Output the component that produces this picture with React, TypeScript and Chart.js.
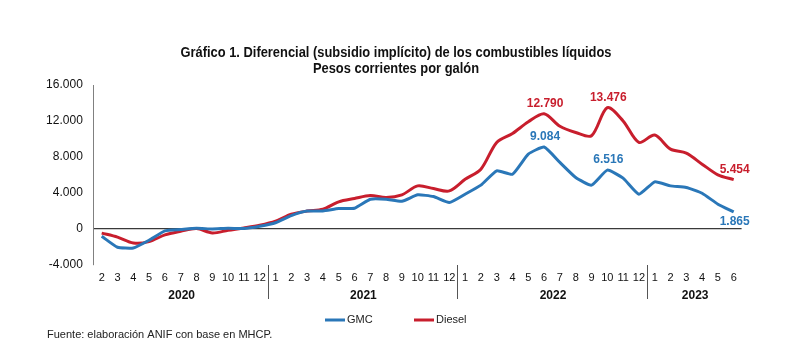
import React, { useEffect, useRef } from 'react';
import { Chart, registerables } from 'chart.js';

Chart.register(...registerables);

// ---- Data ----
const monthLabels = [
  '2', '3', '4', '5', '6', '7', '8', '9', '10', '11', '12',
  '1', '2', '3', '4', '5', '6', '7', '8', '9', '10', '11', '12',
  '1', '2', '3', '4', '5', '6', '7', '8', '9', '10', '11', '12',
  '1', '2', '3', '4', '5', '6',
];
const yearLabels = ['2020', '2021', '2022', '2023'];

const gmcValues = [
  -860, -2080, -2160, -1300, -260, -110, 40, -40, 40, 0, 260,
  650, 1450, 1950, 1970, 2230, 2270, 3270, 3270, 3050, 3760, 3570, 2900,
  3830, 4840, 6440, 6060, 8300, 9084, 7370, 5690, 4840, 6516, 5620, 3830,
  5210, 4760, 4580, 3940, 2720, 1865,
];
const dieselValues = [
  -500, -950, -1600, -1450, -700, -300, 0, -480, -190, 70, 370,
  820, 1600, 1950, 2160, 2980, 3350, 3680, 3460, 3760, 4760, 4460, 4200,
  5500, 6620, 9600, 10600, 11900, 12790, 11400, 10710, 10340, 13476, 12000, 9600,
  10420, 8850, 8410, 7180, 5990, 5454,
];
const seriesNames = ['GMC', 'Diesel'];
const yMin = -4000;
const yMax = 16000;
const yStep = 4000;

// points that carry a value label: series index, point index, placement
const labelledPoints = [
  { series: 1, index: 28, place: 'above' },
  { series: 1, index: 32, place: 'above' },
  { series: 1, index: 40, place: 'above' },
  { series: 0, index: 28, place: 'above' },
  { series: 0, index: 32, place: 'above' },
  { series: 0, index: 40, place: 'below' },
];

const titleLines = [
  'Gráfico 1. Diferencial (subsidio implícito) de los combustibles líquidos',
  'Pesos corrientes por galón',
];
const sourceText = 'Fuente: elaboración ANIF con base en MHCP.';

// ---- Styles ----
const BLUE = '#2A77B8';
const RED = '#C81E2D';
const colors = [BLUE, RED];
const FONT = '"Liberation Sans", Arial, Helvetica, sans-serif';

function fmt(v: number): string {
  const s = Math.abs(Math.round(v)).toString().replace(/\B(?=(\d{3})+(?!\d))/g, '.');
  return (v < 0 ? '-' : '') + s;
}

const overlayPlugin = {
  id: 'overlay',
  afterDraw(chart: any) {
    const ctx = chart.ctx as CanvasRenderingContext2D;
    const xs = chart.scales.x;
    const ys = chart.scales.y;
    ctx.save();

    // Title (bold, condensed)
    ctx.font = 'bold 15px "Liberation Sans Narrow", ' + FONT;
    const w1 = ctx.measureText(titleLines[0]).width;
    const sx = 431 / w1;
    ctx.fillStyle = '#111111';
    ctx.textAlign = 'center';
    ctx.textBaseline = 'middle';
    titleLines.forEach((t, i) => {
      ctx.save();
      ctx.translate(396, 53 + i * 16);
      ctx.scale(sx, 1);
      ctx.fillText(t, 0, 0);
      ctx.restore();
    });

    // Year groups: separators and labels
    const starts: number[] = [];
    monthLabels.forEach((m, i) => {
      if (i === 0 || m === '1') starts.push(i);
    });
    ctx.strokeStyle = '#555555';
    ctx.lineWidth = 1;
    ctx.font = 'bold 12px ' + FONT;
    ctx.fillStyle = '#111111';
    starts.forEach((s, k) => {
      if (k > 0) {
        const px = Math.round((xs.getPixelForValue(s - 1) + xs.getPixelForValue(s)) / 2) + 0.5;
        ctx.beginPath();
        ctx.moveTo(px, ys.bottom + 0.5);
        ctx.lineTo(px, ys.bottom + 34.5);
        ctx.stroke();
      }
      const e = k < starts.length - 1 ? starts[k + 1] - 1 : monthLabels.length - 1;
      const cx = (xs.getPixelForValue(s) + xs.getPixelForValue(e)) / 2;
      ctx.fillText(yearLabels[k], cx + 1, ys.bottom + 31.5);
    });

    // Value labels
    ctx.font = 'bold 12px ' + FONT;
    labelledPoints.forEach((p) => {
      const meta = chart.getDatasetMeta(p.series);
      const el = meta.data[p.index];
      const v = (chart.data.datasets[p.series].data as number[])[p.index];
      ctx.fillStyle = colors[p.series];
      const dy = p.place === 'above' ? -10 : 10;
      ctx.fillText(fmt(v), el.x + 1, el.y + dy);
    });

    // Legend
    ctx.font = '11px ' + FONT;
    ctx.textAlign = 'left';
    const legendX = [325, 414];
    seriesNames.forEach((n, i) => {
      ctx.strokeStyle = colors[i];
      ctx.lineWidth = 3;
      ctx.beginPath();
      ctx.moveTo(legendX[i], 320);
      ctx.lineTo(legendX[i] + 20, 320);
      ctx.stroke();
      ctx.fillStyle = '#222222';
      ctx.fillText(n, legendX[i] + 22, 320);
    });

    // Source
    ctx.fillStyle = '#222222';
    ctx.font = '11px ' + FONT;
    ctx.fillText(sourceText, 47, 335);

    ctx.restore();
  },
};

export default function App() {
  const ref = useRef<HTMLCanvasElement | null>(null);

  useEffect(() => {
    if (!ref.current) return;
    const chart = new Chart(ref.current, {
      type: 'line',
      data: {
        labels: monthLabels,
        datasets: [
          {
            label: seriesNames[0],
            data: gmcValues,
            borderColor: BLUE,
            backgroundColor: BLUE,
            borderWidth: 3,
            pointRadius: 0,
            tension: 0.15,
          },
          {
            label: seriesNames[1],
            data: dieselValues,
            borderColor: RED,
            backgroundColor: RED,
            borderWidth: 3,
            pointRadius: 0,
            tension: 0.3,
          },
        ],
      },
      options: {
        animation: false,
        responsive: false,
        maintainAspectRatio: false,
        layout: { padding: { top: 85, right: 48.4, bottom: 0, left: 0 } },
        plugins: {
          legend: { display: false },
          tooltip: { enabled: false },
          title: { display: false },
        },
        scales: {
          x: {
            type: 'category',
            offset: true,
            grid: { display: false, drawTicks: false },
            border: { display: false },
            ticks: {
              autoSkip: false,
              maxRotation: 0,
              minRotation: 0,
              padding: 7,
              color: '#111111',
              font: { family: FONT, size: 11 },
            },
            afterFit: (scale: any) => {
              scale.height = 93.5;
            },
          },
          y: {
            min: yMin,
            max: yMax,
            grid: {
              display: true,
              drawTicks: false,
              color: (c: any) => (c.tick && c.tick.value === 0 ? '#3a3a3a' : 'rgba(0,0,0,0)'),
              lineWidth: 1.2,
            },
            border: { display: true, color: '#808080', width: 1 },
            ticks: {
              stepSize: yStep,
              padding: 11,
              color: '#111111',
              font: { family: FONT, size: 12 },
              callback: (v: any) => fmt(Number(v)),
            },
            afterFit: (scale: any) => {
              scale.width = 93.8;
            },
          },
        },
      },
      plugins: [overlayPlugin],
    });
    return () => chart.destroy();
  }, []);

  return (
    <div style={{ position: 'absolute', left: 0, top: 0, width: 790, height: 358, background: '#ffffff' }}>
      <canvas ref={ref} width={790} height={358} style={{ width: 790, height: 358, display: 'block' }} />
    </div>
  );
}
